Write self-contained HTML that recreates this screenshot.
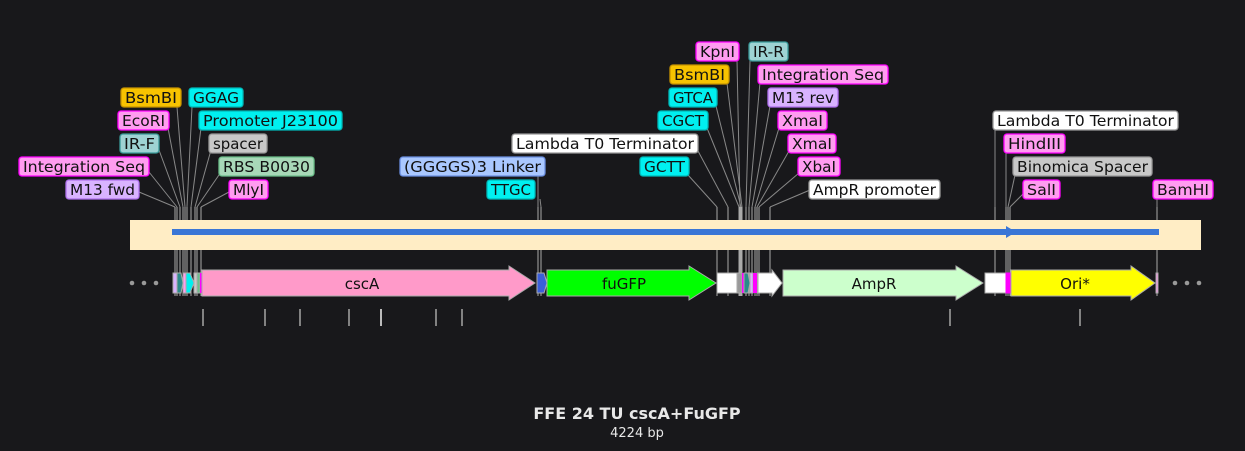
<!DOCTYPE html>
<html><head><meta charset="utf-8"><style>
html,body{margin:0;padding:0;background:#18181b;}
svg{display:block;font-family:"DejaVu Sans","Liberation Sans",sans-serif;}
.l{font-size:15px;fill:#111;}
.ln{stroke:#888;stroke-width:1;fill:none;}
.v{stroke:#aaa;stroke-width:1;}
</style></head><body>
<svg width="1245" height="451" viewBox="0 0 1245 451" xmlns="http://www.w3.org/2000/svg">
<rect width="1245" height="451" fill="#18181b"/>
<g class="ln">
<path d="M139 192 L175 207"/><path d="M149 172 L177 207"/><path d="M159 150 L180 207"/><path d="M168 128 L183 207"/><path d="M177 107 L185 207"/><path d="M192 107 L187 207"/><path d="M201 128 L191 207"/><path d="M211 150 L195 207"/><path d="M221 172 L197 207"/><path d="M229 192 L201 207"/>
<path d="M538 176 L538 207"/><path d="M540 199 L541 207"/>
<path d="M688 175 L717 207"/><path d="M698 151 L728 207"/><path d="M707 128 L739 207"/><path d="M716 106 L741 207"/><path d="M727 83 L742 207"/><path d="M737 60 L740 207"/><path d="M750 61 L746 207"/><path d="M760 82 L749 207"/><path d="M770 106 L752 207"/><path d="M779 128 L755 207"/><path d="M789 151 L757 207"/><path d="M799 173 L759 207"/><path d="M810 190 L770 207"/>
<path d="M995 130 L995 207"/><path d="M1006 153 L1006 207"/><path d="M1015 175 L1008 207"/><path d="M1023 194 L1010 207"/><path d="M1157 199 L1157 207"/>
</g>
<g class="v">
<path d="M175 207V296M177 207V296M180 207V296M183 207V296M185 207V296M187 207V296M191 207V296M195 207V296M197 207V296M201 207V296"/>
<path d="M538 207V296M541 207V296"/>
<path d="M717 207V296M728 207V296M739 207V296M741 207V296M742 207V296M740 207V296M746 207V296M749 207V296M752 207V296M755 207V296M757 207V296M759 207V296M770 207V296"/>
<path d="M995 207V296M1006 207V296M1008 207V296M1010 207V296M1157 207V296"/>
</g>
<rect x="130" y="220" width="1071" height="30" fill="#ffedc5"/>
<rect x="172" y="229" width="987" height="6" fill="#3a76d6"/>
<path d="M1006 226 L1016 232 L1006 238Z" fill="#3a76d6"/>
<g fill="#999"><circle cx="132" cy="283" r="2.3"/><circle cx="144" cy="283" r="2.3"/><circle cx="156" cy="283" r="2.3"/><circle cx="1175" cy="283" r="2.3"/><circle cx="1187" cy="283" r="2.3"/><circle cx="1199" cy="283" r="2.3"/></g>
<g stroke="#aaa" stroke-width="1">
<rect x="173" y="273" width="4" height="20" fill="#d9b3ff"/>
<path d="M177 273 L181 273 L183 283 L181 293 L177 293Z" fill="#2a8a8a"/>
<rect x="183" y="273" width="3" height="20" fill="#ff9cf0"/>
<path d="M186 273 L190 273 L194 283 L190 293 L186 293Z" fill="#00f0f0"/>
<rect x="194" y="273" width="3" height="20" fill="#c8c8c8"/>
<rect x="197" y="273" width="3" height="20" fill="#6bbf8a"/>
<rect x="200" y="273" width="2" height="20" fill="#ff00ff" stroke="none"/>
<path d="M202 270 H509 V266 L535 283 L509 300 V296 H202Z" fill="#ff9ac9"/>
<path d="M537 273 H544 L547 283 L544 293 H537Z" fill="#3a5fd8"/>
<path d="M547 270 H689 V266 L716 283 L689 300 V296 H547Z" fill="#00ff00"/>
<rect x="717" y="273" width="20" height="20" fill="#fff"/>
<rect x="737" y="273" width="5" height="20" fill="#999"/>
<rect x="742" y="273" width="2" height="20" fill="#ff00ff" stroke="none"/>
<path d="M744 273 L748 273 L750 283 L748 293 L744 293Z" fill="#2a8a8a"/>
<rect x="750" y="273" width="3" height="20" fill="#d9b3ff"/>
<rect x="753" y="273" width="4" height="20" fill="#ff00ff" stroke="none"/>
<path d="M758 273 H772 V270 L782 283 L772 296 V293 H758Z" fill="#fff"/>
<path d="M783 270 H956 V266 L983 283 L956 300 V296 H783Z" fill="#ccffcc"/>
<rect x="985" y="273" width="21" height="20" fill="#fff"/>
<rect x="1006" y="273" width="4" height="20" fill="#ff00ff" stroke="#ff00ff"/>
<path d="M1011 270 H1131 V266 L1155 283 L1131 300 V296 H1011Z" fill="#ffff00"/>
<rect x="1156" y="273" width="2" height="20" fill="#ff9cf0"/>
</g>
<g font-size="15" fill="#111" text-anchor="middle">
<text x="362" y="289">cscA</text><text x="624" y="289">fuGFP</text><text x="874" y="289">AmpR</text><text x="1075" y="289">Ori*</text>
</g>
<g stroke="#bbb" stroke-width="1.3"><path d="M203 309V326M265 309V326M300 309V326M349 309V326M436 309V326M462 309V326M950 309V326M1080 309V326"/><path d="M381 309V326" stroke-width="2"/></g>
<g stroke-width="1.3">
<rect x="121" y="88" width="60" height="19" rx="3" fill="#f8c300" stroke="#c89400"/>
<rect x="189" y="88" width="54" height="19" rx="3" fill="#00f0f0" stroke="#00b8b8"/>
<rect x="118" y="111" width="51" height="19" rx="3" fill="#ff9cf0" stroke="#ff00ff"/>
<rect x="199" y="111" width="143" height="19" rx="3" fill="#00f0f0" stroke="#00b8b8"/>
<rect x="120" y="134" width="39" height="19" rx="3" fill="#9ed3d3" stroke="#3a9a9a"/>
<rect x="209" y="134" width="58" height="19" rx="3" fill="#c8c8c8" stroke="#999"/>
<rect x="19" y="157" width="130" height="19" rx="3" fill="#ff9cf0" stroke="#ff00ff"/>
<rect x="219" y="157" width="95" height="19" rx="3" fill="#a8d8b8" stroke="#6bbf8a"/>
<rect x="66" y="180" width="73" height="19" rx="3" fill="#d9b3ff" stroke="#b070ee"/>
<rect x="229" y="180" width="39" height="19" rx="3" fill="#ff9cf0" stroke="#ff00ff"/>
<rect x="400" y="157" width="145" height="19" rx="3" fill="#aac8ff" stroke="#6a8ee0"/>
<rect x="487" y="180" width="48" height="19" rx="3" fill="#00f0f0" stroke="#00b8b8"/>
<rect x="512" y="134" width="186" height="19" rx="3" fill="#fff" stroke="#999"/>
<rect x="640" y="157" width="49" height="19" rx="3" fill="#00f0f0" stroke="#00b8b8"/>
<rect x="658" y="111" width="50" height="19" rx="3" fill="#00f0f0" stroke="#00b8b8"/>
<rect x="669" y="88" width="48" height="19" rx="3" fill="#00f0f0" stroke="#00b8b8"/>
<rect x="670" y="65" width="59" height="19" rx="3" fill="#f8c300" stroke="#c89400"/>
<rect x="696" y="42" width="43" height="19" rx="3" fill="#ff9cf0" stroke="#ff00ff"/>
<rect x="749" y="42" width="39" height="19" rx="3" fill="#9ed3d3" stroke="#3a9a9a"/>
<rect x="758" y="65" width="130" height="19" rx="3" fill="#ff9cf0" stroke="#ff00ff"/>
<rect x="768" y="88" width="70" height="19" rx="3" fill="#d9b3ff" stroke="#b070ee"/>
<rect x="778" y="111" width="49" height="19" rx="3" fill="#ff9cf0" stroke="#ff00ff"/>
<rect x="788" y="134" width="48" height="19" rx="3" fill="#ff9cf0" stroke="#ff00ff"/>
<rect x="798" y="157" width="42" height="19" rx="3" fill="#ff9cf0" stroke="#ff00ff"/>
<rect x="809" y="180" width="131" height="19" rx="3" fill="#fff" stroke="#999"/>
<rect x="993" y="111" width="185" height="19" rx="3" fill="#fff" stroke="#999"/>
<rect x="1004" y="134" width="61" height="19" rx="3" fill="#ff9cf0" stroke="#ff00ff"/>
<rect x="1013" y="157" width="139" height="19" rx="3" fill="#c8c8c8" stroke="#999"/>
<rect x="1023" y="180" width="37" height="19" rx="3" fill="#ff9cf0" stroke="#ff00ff"/>
<rect x="1153" y="180" width="60" height="19" rx="3" fill="#ff9cf0" stroke="#ff00ff"/>
</g>
<g class="l" lengthAdjust="spacingAndGlyphs">
<text x="125" y="103" textLength="52" lengthAdjust="spacingAndGlyphs">BsmBI</text><text x="193" y="103" textLength="46" lengthAdjust="spacingAndGlyphs">GGAG</text>
<text x="122" y="126" textLength="43" lengthAdjust="spacingAndGlyphs">EcoRI</text><text x="203" y="126" textLength="135" lengthAdjust="spacingAndGlyphs">Promoter J23100</text>
<text x="124" y="149" textLength="31" lengthAdjust="spacingAndGlyphs">IR-F</text><text x="213" y="149" textLength="50" lengthAdjust="spacingAndGlyphs">spacer</text>
<text x="23" y="172" textLength="122" lengthAdjust="spacingAndGlyphs">Integration Seq</text><text x="223" y="172" textLength="87" lengthAdjust="spacingAndGlyphs">RBS B0030</text>
<text x="70" y="195" textLength="65" lengthAdjust="spacingAndGlyphs">M13 fwd</text><text x="233" y="195" textLength="31" lengthAdjust="spacingAndGlyphs">MlyI</text>
<text x="404" y="172" textLength="137" lengthAdjust="spacingAndGlyphs">(GGGGS)3 Linker</text><text x="491" y="195" textLength="40" lengthAdjust="spacingAndGlyphs">TTGC</text>
<text x="516" y="149" textLength="178" lengthAdjust="spacingAndGlyphs">Lambda T0 Terminator</text><text x="644" y="172" textLength="41" lengthAdjust="spacingAndGlyphs">GCTT</text>
<text x="662" y="126" textLength="42" lengthAdjust="spacingAndGlyphs">CGCT</text><text x="673" y="103" textLength="40" lengthAdjust="spacingAndGlyphs">GTCA</text>
<text x="674" y="80" textLength="51" lengthAdjust="spacingAndGlyphs">BsmBI</text><text x="700" y="57" textLength="35" lengthAdjust="spacingAndGlyphs">KpnI</text>
<text x="753" y="57" textLength="31" lengthAdjust="spacingAndGlyphs">IR-R</text><text x="762" y="80" textLength="122" lengthAdjust="spacingAndGlyphs">Integration Seq</text>
<text x="772" y="103" textLength="62" lengthAdjust="spacingAndGlyphs">M13 rev</text><text x="782" y="126" textLength="41" lengthAdjust="spacingAndGlyphs">XmaI</text>
<text x="792" y="149" textLength="40" lengthAdjust="spacingAndGlyphs">XmaI</text><text x="802" y="172" textLength="34" lengthAdjust="spacingAndGlyphs">XbaI</text>
<text x="813" y="195" textLength="123" lengthAdjust="spacingAndGlyphs">AmpR promoter</text>
<text x="997" y="126" textLength="177" lengthAdjust="spacingAndGlyphs">Lambda T0 Terminator</text><text x="1008" y="149" textLength="53" lengthAdjust="spacingAndGlyphs">HindIII</text>
<text x="1017" y="172" textLength="131" lengthAdjust="spacingAndGlyphs">Binomica Spacer</text><text x="1027" y="195" textLength="29" lengthAdjust="spacingAndGlyphs">SalI</text>
<text x="1157" y="195" textLength="52" lengthAdjust="spacingAndGlyphs">BamHI</text>
</g>
<text x="637" y="419" text-anchor="middle" font-size="16" font-weight="bold" fill="#e8e8e8">FFE 24 TU cscA+FuGFP</text>
<text x="637" y="437" text-anchor="middle" font-size="13" fill="#e8e8e8">4224 bp</text>
</svg>
</body></html>
